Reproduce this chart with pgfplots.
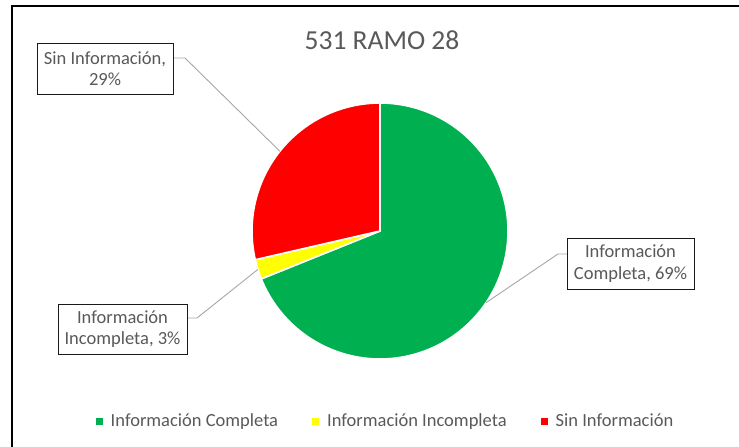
\documentclass[border=0pt]{standalone}
\usepackage{fontspec}
\setmainfont{Carlito}
\usepackage{pgfplots}
\pgfplotsset{compat=1.18}
\definecolor{cgreen}{HTML}{00B050}
\definecolor{cyellow}{HTML}{FFFF00}
\definecolor{cred}{HTML}{FF0000}
\definecolor{tgray}{HTML}{595959}
\definecolor{lgray}{HTML}{A6A6A6}
\definecolor{bdark}{HTML}{1A1A1A}
\begin{document}
\begin{tikzpicture}
% values (percent)
\def\vA{68.9}% Informacion Completa
\def\vB{2.5}%  Informacion Incompleta
\def\vC{28.6}% Sin Informacion
\pgfmathsetmacro\aA{\vA*3.6}
\pgfmathsetmacro\aB{(\vA+\vB)*3.6}
\pgfmathsetmacro\aC{(\vA+\vB+\vC)*3.6}
\pgfmathsetmacro\mA{\aA/2}
\pgfmathsetmacro\mB{(\aA+\aB)/2}
\pgfmathsetmacro\mC{(\aB+\aC)/2}
\def\cx{380}\def\cy{231}\def\rr{128}
\begin{axis}[at={(0,0)}, anchor=south west, scale only axis,
  width=739pt, height=447pt, xmin=0, xmax=739, ymin=0, ymax=447,
  y dir=reverse, hide axis, clip=false,
  legend columns=3,
  legend style={at={(axis cs:384.5,421)}, anchor=center, draw=none, fill=none,
    font=\fontsize{18.5}{21}\selectfont, text=tgray, inner sep=0pt,
    nodes={inner sep=0pt},
    /tikz/every odd column/.append style={column sep=8pt},
    /tikz/every even column/.append style={column sep=34pt}},
  legend image code/.code={\fill[#1,draw=none] (0pt,-3.5pt) rectangle (7pt,3.5pt);},
]
\addplot[fill=cgreen, draw=white, line width=1.6pt, line join=round, domain=0:\aA, samples=150, variable=\t]
  ({\cx+\rr*sin(\t)},{\cy-\rr*cos(\t)}) -- (axis cs:\cx,\cy) -- cycle;
\addlegendentry{Información Completa}
\addplot[fill=cyellow, draw=white, line width=1.6pt, line join=round, domain=\aA:\aB, samples=20, variable=\t]
  ({\cx+\rr*sin(\t)},{\cy-\rr*cos(\t)}) -- (axis cs:\cx,\cy) -- cycle;
\addlegendentry{Información Incompleta}
\addplot[fill=cred, draw=white, line width=1.6pt, line join=round, domain=\aB:\aC, samples=80, variable=\t]
  ({\cx+\rr*sin(\t)},{\cy-\rr*cos(\t)}) -- (axis cs:\cx,\cy) -- cycle;
\addlegendentry{Sin Información}

% leader lines
\draw[lgray, line width=0.9pt] (axis cs:173,58) -- (axis cs:185,58) -- (axis cs:{\cx+\rr*sin(\mC)},{\cy-\rr*cos(\mC)});
\draw[lgray, line width=0.9pt] (axis cs:187,318) -- (axis cs:197,318) -- (axis cs:{\cx+\rr*sin(\mB)},{\cy-\rr*cos(\mB)});
\draw[lgray, line width=0.9pt] (axis cs:567,254) -- (axis cs:558,254) -- (axis cs:{\cx+\rr*sin(\mA)},{\cy-\rr*cos(\mA)});

% data labels
\node[draw=bdark, line width=1pt, fill=white, minimum width=136pt, minimum height=51pt, inner sep=0pt,
  align=center, text=tgray, font=\fontsize{18.5}{21.5}\selectfont] at (axis cs:105,68.5) {Sin Información,\\29\%};
\node[draw=bdark, line width=1pt, fill=white, minimum width=129pt, minimum height=50pt, inner sep=0pt,
  align=center, text=tgray, font=\fontsize{18.5}{21.5}\selectfont] at (axis cs:122.5,329) {Información\\Incompleta, 3\%};
\node[draw=bdark, line width=1pt, fill=white, minimum width=127pt, minimum height=51pt, inner sep=0pt,
  align=center, text=tgray, font=\fontsize{18.5}{21.5}\selectfont] at (axis cs:630.5,263.5) {Información\\Completa, 69\%};

% title
\node[anchor=base, text=tgray, font=\fontsize{27.5}{33}\selectfont] at (axis cs:382,49) {531 RAMO 28};

% chart frame (left and top edges visible)
\draw[black, line width=1.3pt] (axis cs:12,460) -- (axis cs:12,6) -- (axis cs:760,6);
\end{axis}
\pgfresetboundingbox
\useasboundingbox (0,0) rectangle (739pt,447pt);
\end{tikzpicture}
\end{document}
